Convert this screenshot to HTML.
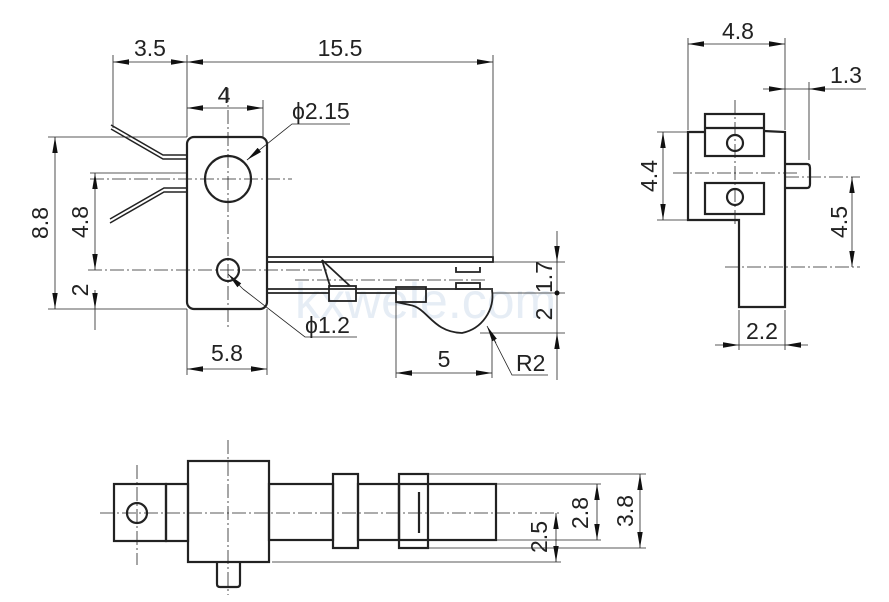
<!DOCTYPE html>
<html><head><meta charset="utf-8"><style>
html,body{margin:0;padding:0;background:#fff;}
svg{display:block;}
text{font-family:"Liberation Sans",sans-serif;font-size:23px;fill:#222;}
</style></head><body>
<svg width="889" height="602" viewBox="0 0 889 602" xmlns="http://www.w3.org/2000/svg">
<defs>
<marker id="a" viewBox="0 0 16 6" refX="16" refY="3" markerWidth="16" markerHeight="6" markerUnits="userSpaceOnUse" orient="auto-start-reverse"><path d="M0,0.3 L16,3 L0,5.7 z" fill="#111"/></marker>
</defs>
<text x="295" y="318" style="font-size:50px;fill:#e6edf5">kxwele.com</text>
<g stroke="#222" stroke-width="1" fill="none">
<g stroke-dasharray="14,3,2,3" stroke-width="0.8">
<line x1="90" y1="179" x2="292" y2="179"/>
<line x1="88" y1="270" x2="330" y2="270"/>
<line x1="228" y1="88" x2="228" y2="330"/>
<line x1="295" y1="280" x2="485" y2="280"/>
<line x1="673" y1="173" x2="800" y2="173"/>
<line x1="735" y1="100" x2="735" y2="225"/>
<line x1="725" y1="267" x2="860" y2="267"/>
<line x1="785" y1="177" x2="860" y2="177"/>
<line x1="100" y1="513" x2="561" y2="513"/>
<line x1="137" y1="465" x2="137" y2="565"/>
<line x1="228" y1="440" x2="228" y2="595"/>
</g>
<g stroke-width="0.8">
<line x1="113" y1="55" x2="113" y2="128"/><line x1="187" y1="55" x2="187" y2="137"/><line x1="493" y1="55" x2="493" y2="256"/>
<line x1="113" y1="62" x2="187" y2="62" marker-start="url(#a)" marker-end="url(#a)"/>
<line x1="187" y1="62" x2="493" y2="62" marker-start="url(#a)" marker-end="url(#a)"/>
<line x1="263" y1="100" x2="263" y2="137"/>
<line x1="187" y1="108" x2="263" y2="108" marker-start="url(#a)" marker-end="url(#a)"/>
<polyline points="350,124 292,124 247,160" /><line x1="258" y1="151" x2="247" y2="160" marker-end="url(#a)"/>
<line x1="48" y1="137" x2="187" y2="137"/><line x1="48" y1="309" x2="187" y2="309"/>
<line x1="55" y1="137" x2="55" y2="309" marker-start="url(#a)" marker-end="url(#a)"/>
<line x1="90" y1="173" x2="187" y2="173"/>
<line x1="95" y1="173" x2="95" y2="270" marker-start="url(#a)" marker-end="url(#a)"/>
<line x1="95" y1="290" x2="95" y2="309" marker-end="url(#a)"/><line x1="95" y1="309" x2="95" y2="330"/>
<line x1="187" y1="309" x2="187" y2="375"/><line x1="267" y1="309" x2="267" y2="375"/>
<line x1="187" y1="369" x2="267" y2="369" marker-start="url(#a)" marker-end="url(#a)"/>
<polyline points="357,337 305,337 243,289"/><line x1="228" y1="274" x2="243" y2="289" marker-start="url(#a)"/>
<line x1="493" y1="262" x2="565" y2="262"/><line x1="492" y1="293" x2="565" y2="293"/><line x1="480" y1="333" x2="565" y2="333"/>
<line x1="557" y1="231" x2="557" y2="262" marker-end="url(#a)"/>
<line x1="557" y1="262" x2="557" y2="333"/>
<line x1="557" y1="380" x2="557" y2="333" marker-end="url(#a)"/>
<line x1="396" y1="302" x2="396" y2="378"/><line x1="492" y1="333" x2="492" y2="378"/>
<line x1="396" y1="373" x2="492" y2="373" marker-start="url(#a)" marker-end="url(#a)"/>
<polyline points="548,375 512,375 488,328"/><line x1="496" y1="343" x2="487" y2="326" marker-end="url(#a)"/>
<line x1="688" y1="38" x2="688" y2="130"/><line x1="785" y1="38" x2="785" y2="130"/>
<line x1="688" y1="44" x2="785" y2="44" marker-start="url(#a)" marker-end="url(#a)"/>
<line x1="763" y1="89" x2="785" y2="89" marker-end="url(#a)"/>
<line x1="866" y1="89" x2="809" y2="89" marker-end="url(#a)"/>
<line x1="785" y1="89" x2="809" y2="89"/>
<line x1="809" y1="82" x2="809" y2="160"/>
<line x1="657" y1="132" x2="688" y2="132"/><line x1="657" y1="220" x2="688" y2="220"/>
<line x1="663" y1="132" x2="663" y2="220" marker-start="url(#a)" marker-end="url(#a)"/>
<line x1="852" y1="177" x2="852" y2="267" marker-start="url(#a)" marker-end="url(#a)"/>
<line x1="739" y1="310" x2="739" y2="350"/><line x1="785" y1="310" x2="785" y2="350"/>
<line x1="715" y1="345" x2="739" y2="345" marker-end="url(#a)"/>
<line x1="808" y1="345" x2="785" y2="345" marker-end="url(#a)"/>
<line x1="739" y1="345" x2="785" y2="345"/>
<line x1="428" y1="474" x2="646" y2="474"/><line x1="428" y1="548" x2="646" y2="548"/>
<line x1="496" y1="484" x2="601" y2="484"/><line x1="496" y1="540" x2="601" y2="540"/>
<line x1="272" y1="562" x2="561" y2="562"/>
<line x1="640" y1="474" x2="640" y2="548" marker-start="url(#a)" marker-end="url(#a)"/>
<line x1="597" y1="484" x2="597" y2="540" marker-start="url(#a)" marker-end="url(#a)"/>
<line x1="556" y1="513" x2="556" y2="562" marker-start="url(#a)" marker-end="url(#a)"/>
</g>
<g stroke-width="2.2">
<rect x="187" y="137" width="80" height="172" rx="7"/>
<circle cx="228" cy="179" r="23"/>
<circle cx="228" cy="270" r="11"/>
<polyline points="111,125 163,155 187,155" stroke-width="1.5"/>
<polyline points="111,129 163,159 187,159" stroke-width="1.5"/>
<polyline points="187,188 164,188 110,219" stroke-width="1.5"/>
<polyline points="187,192 164,192 110,223" stroke-width="1.5"/>
<rect x="267" y="257" width="226" height="5" stroke-width="1.8"/>
<line x1="267" y1="289" x2="493" y2="289" stroke-width="1.8"/>
<line x1="267" y1="293" x2="329" y2="293" stroke-width="1.8"/>
<line x1="356" y1="293" x2="396" y2="293" stroke-width="1.8"/>
<rect x="329" y="286" width="27" height="15" stroke-width="1.8"/>
<polyline points="322,260 330,286" stroke-width="1.8"/><polyline points="322,260 350,286" stroke-width="1.8"/>
<rect x="396" y="287" width="30" height="15" stroke-width="1.8"/>
<polyline points="456,267 456,272 480,272 480,267" stroke-width="1.8"/>
<rect x="456" y="283" width="24" height="6" stroke-width="1.8"/>
<path d="M396,302 L410,305 C428,308 432,332 462,333 A38,38 0 0 0 492,290" stroke-width="1.8"/>
<polyline points="705,132 688,132 688,220 739,220 739,307 785,307 785,132 764,131"/>
<rect x="705" y="114" width="59" height="42"/><line x1="705" y1="128" x2="764" y2="128"/>
<rect x="705" y="183" width="59" height="31"/>
<circle cx="735" cy="143" r="8"/><circle cx="735" cy="197" r="8"/>
<path d="M785,164 L807,164 Q810,164 810,168 L810,184 Q810,188 807,188 L785,188"/>
<rect x="114" y="484" width="52" height="57"/>
<rect x="166" y="484" width="22" height="57"/>
<circle cx="137" cy="513" r="10"/>
<rect x="188" y="461" width="81" height="101"/>
<rect x="269" y="484" width="64" height="56"/>
<rect x="333" y="474" width="25" height="74"/>
<rect x="358" y="484" width="41" height="56"/>
<rect x="399" y="474" width="29" height="74"/>
<rect x="399" y="484" width="97" height="56"/>
<line x1="419" y1="492" x2="419" y2="533"/>
<path d="M217,562 L217,584 Q217,587 220,587 L237,587 Q240,587 240,584 L240,562"/>
</g>
<circle cx="557" cy="293" r="2.5" fill="#111" stroke="none"/>
</g>
<text x="150" y="56" text-anchor="middle">3.5</text>
<text x="340" y="56" text-anchor="middle">15.5</text>
<text x="224" y="103" text-anchor="middle">4</text>
<text x="292" y="119">ϕ2.15</text>
<text x="227" y="361" text-anchor="middle">5.8</text>
<text x="305" y="333">ϕ1.2</text>
<text x="444" y="367" text-anchor="middle">5</text>
<text x="516" y="371">R2</text>
<text x="738" y="39" text-anchor="middle">4.8</text>
<text x="846" y="83" text-anchor="middle">1.3</text>
<text x="762" y="339" text-anchor="middle">2.2</text>
<text transform="translate(48,223) rotate(-90)" text-anchor="middle">8.8</text>
<text transform="translate(88,222) rotate(-90)" text-anchor="middle">4.8</text>
<text transform="translate(88,290) rotate(-90)" text-anchor="middle">2</text>
<text transform="translate(552,277) rotate(-90)" text-anchor="middle">1.7</text>
<text transform="translate(552,314) rotate(-90)" text-anchor="middle">2</text>
<text transform="translate(657,176) rotate(-90)" text-anchor="middle">4.4</text>
<text transform="translate(847,222) rotate(-90)" text-anchor="middle">4.5</text>
<text transform="translate(547,537) rotate(-90)" text-anchor="middle">2.5</text>
<text transform="translate(588,513) rotate(-90)" text-anchor="middle">2.8</text>
<text transform="translate(633,511) rotate(-90)" text-anchor="middle">3.8</text>
</svg>
</body></html>
